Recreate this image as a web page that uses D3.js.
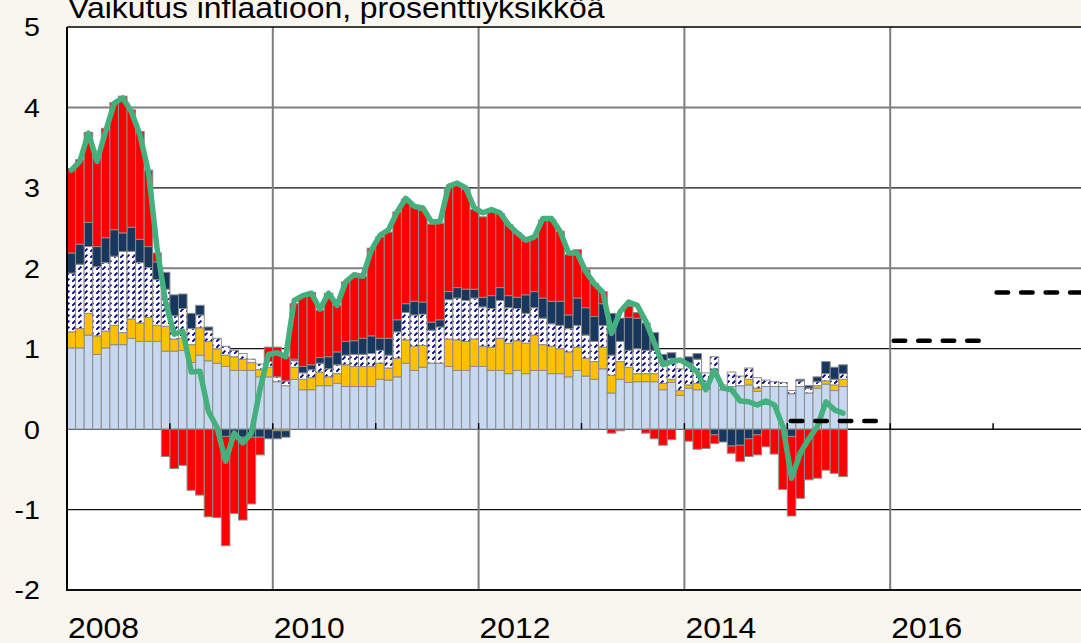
<!DOCTYPE html>
<html>
<head>
<meta charset="utf-8">
<script src="https://cdn.jsdelivr.net/npm/d3@7"></script>
<style>
  html, body { margin: 0; padding: 0; background: #f9f5ef; }
  svg { display: block; font-family: "Liberation Sans", Arial, sans-serif; }
</style>
</head>
<body>
<svg></svg>
<script>
// monthly contributions to inflation, 2008-01 .. 2015-07, percentage points
const startYear = 2008;

const lightBlue = [
  1.01, 1.01, 1.17, 0.93, 1.01, 1.05, 1.05, 1.13, 1.09, 1.09,
  1.09, 0.97, 0.97, 0.98, 0.83, 0.92, 0.85, 0.82, 0.78, 0.73,
  0.73, 0.73, 0.65, 0.65, 0.59, 0.54, 0.62, 0.49, 0.49, 0.54,
  0.54, 0.57, 0.53, 0.53, 0.53, 0.53, 0.62, 0.61, 0.65, 0.82,
  0.73, 0.77, 0.82, 0.82, 0.78, 0.73, 0.73, 0.78, 0.78, 0.73,
  0.73, 0.69, 0.73, 0.69, 0.73, 0.73, 0.69, 0.69, 0.65, 0.73,
  0.66, 0.62, 0.75, 0.45, 0.62, 0.58, 0.59, 0.59, 0.59, 0.49,
  0.58, 0.42, 0.51, 0.49, 0.50, 0.73, 0.49, 0.53, 0.54, 0.55,
  0.47, 0.53, 0.53, 0.53, 0.44, 0.53, 0.45, 0.51, 0.56, 0.48,
  0.53];

const yellow = [
  0.20, 0.24, 0.27, 0.23, 0.21, 0.24, 0.15, 0.24, 0.23, 0.30,
  0.20, 0.31, 0.15, 0.15, 0.22, 0.34, 0.24, 0.18, 0.14, 0.17,
  0.14, 0.10, 0.09, 0.12, -0.02, -0.02, 0.15, 0.13, 0.15, 0.17,
  0.11, 0.12, 0.27, 0.25, 0.25, 0.25, 0.20, 0.15, 0.23, 0.29,
  0.30, 0.27, 0, 0, 0.34, 0.38, 0.36, 0.34, 0.25, 0.29,
  0.40, 0.38, 0.37, 0.38, 0.44, 0.32, 0.34, 0.31, 0.31, 0.29,
  0.22, 0.22, 0.27, 0.22, 0.22, 0.19, 0.10, 0.10, 0.10, 0.08,
  0.04, 0.06, 0.04, 0.08, 0, 0, 0, 0, 0, 0.07,
  0.04, 0, 0, 0, 0, 0, 0, 0.03, 0.04, 0.07,
  0.09];

const hatched = [
  0.73, 0.80, 0.83, 0.86, 0.85, 0.86, 1.01, 0.84, 0.75, 0.62,
  0.57, 0.46, 0.29, 0.37, 0.20, 0.16, 0.14, 0.13, 0.11, 0.08,
  0.07, 0.04, 0.07, 0.07, 0.06, 0.06, 0.08, 0.08, 0.10, 0.11,
  0.10, 0.11, 0.12, 0.15, 0.15, 0.16, 0.16, 0.16, 0.33, 0.34,
  0.39, 0.39, 0.41, 0.45, 0.49, 0.52, 0.51, 0.51, 0.49, 0.48,
  0.47, 0.44, 0.40, 0.37, 0.34, 0.33, 0.28, 0.29, 0.29, 0.27,
  0.29, 0.25, 0.27, 0.25, 0.25, 0.21, 0.31, 0.29, 0.29, 0.28,
  0.26, 0.27, 0.27, 0.30, 0.20, 0.17, 0.06, 0.18, 0.12, 0.14,
  0.13, 0.08, 0.06, 0.05, 0.04, 0.07, 0.06, 0.05, 0.09, 0.07,
  0.07];

const navy = [
  0.25, 0.25, 0.30, 0.25, 0.31, 0.33, 0.23, 0.30, 0.29, 0.26,
  0.22, 0.21, 0.26, 0.18, 0.19, 0.12, 0.04, 0, -0.09, -0.09,
  -0.10, -0.10, -0.10, -0.12, -0.10, -0.08, 0.02, 0.08, 0.06, 0.07,
  0.15, 0.16, 0.17, 0.17, 0.20, 0.22, 0.15, 0.21, 0.15, 0.11,
  0.17, 0.15, 0.10, 0.09, 0.10, 0.13, 0.14, 0.11, 0.12, 0.16,
  0.16, 0.15, 0.14, 0.23, 0.20, 0.25, 0.28, 0.30, 0.17, 0.34,
  0.34, 0.31, 0.27, 0.52, 0.29, 0.41, 0.38, 0.34, 0.22, 0.08,
  0.07, 0, 0.08, 0.07, 0, -0.07, -0.16, -0.21, -0.20, -0.12,
  -0.07, 0, 0, 0, -0.09, 0.02, 0.03, 0.06, 0.15, 0.15,
  0.11];

const red = [
  1.05, 1.05, 1.12, 1.10, 1.36, 1.58, 1.70, 1.46, 1.34, 0.95,
  0.11, -0.34, -0.49, -0.45, -0.76, -0.82, -1.09, -1.10, -1.36, -0.96,
  -1.03, -0.83, -0.22, 0.18, 0.37, 0.30, 0.69, 0.87, 0.90, 0.59,
  0.79, 0.58, 0.74, 0.80, 0.77, 1.09, 1.26, 1.32, 1.34, 1.30,
  1.18, 1.14, 1.22, 1.20, 1.29, 1.28, 1.24, 0.99, 1.00, 1.05,
  0.92, 0.88, 0.80, 0.67, 0.68, 0.97, 1.01, 0.87, 0.75, 0.60,
  0.47, 0.41, 0.15, -0.05, -0.02, 0.14, 0.07, -0.05, -0.12, -0.20,
  -0.13, 0, -0.15, -0.25, -0.24, -0.11, 0, -0.09, -0.20, -0.22,
  -0.25, -0.22, -0.31, -0.75, -0.99, -0.86, -0.63, -0.61, -0.51, -0.55,
  -0.59];

// headline inflation (green line)
const inflation = [
  3.22, 3.33, 3.68, 3.33, 3.70, 4.05, 4.12, 3.95, 3.66, 3.20,
  2.25, 1.58, 1.18, 1.22, 0.71, 0.72, 0.22, 0.02, -0.40, -0.05,
  -0.17, -0.05, 0.49, 0.93, 0.95, 0.90, 1.60, 1.66, 1.69, 1.49,
  1.69, 1.54, 1.83, 1.92, 1.90, 2.23, 2.41, 2.48, 2.70, 2.87,
  2.77, 2.75, 2.58, 2.58, 3.02, 3.06, 3.00, 2.75, 2.69, 2.73,
  2.69, 2.54, 2.44, 2.35, 2.39, 2.62, 2.62, 2.46, 2.19, 2.19,
  1.96, 1.81, 1.70, 1.19, 1.46, 1.58, 1.54, 1.34, 1.07, 0.80,
  0.84, 0.86, 0.80, 0.71, 0.49, 0.73, 0.51, 0.49, 0.35, 0.34,
  0.30, 0.35, 0.30, 0.03, -0.61, -0.30, -0.12, 0.03, 0.34, 0.24,
  0.20];

// yearly forecasts (dashed)
const forecastYears = [2015, 2016, 2017];
const forecastValues = [0.1, 1.1, 1.7];

const yTicks = [5, 4, 3, 2, 1, 0, -1, -2];
const xLabelYears = [2008, 2010, 2012, 2014, 2016];
const title = 'Vaikutus inflaatioon, prosenttiyksikköä';

const s = {
  width: 1081,
  height: 643,
  left: 67,
  top: 27,
  bottom: 590,
  right: 1096,
};

const svg = d3.select('svg')
    .attr('width', s.width)
    .attr('height', s.height);

const x = d3.scaleLinear().domain([2008, 2018]).range([s.left, s.right]);
const y = d3.scaleLinear().domain([-2, 5]).range([s.bottom, s.top]);
const monthX = i => x(startYear + i / 12);

// hatch pattern: short navy diagonals on white
const defs = svg.append('defs');
const pat = defs.append('pattern')
    .attr('id', 'hatch')
    .attr('patternUnits', 'userSpaceOnUse')
    .attr('width', 6)
    .attr('height', 6);
pat.append('rect').attr('width', 6).attr('height', 6).attr('fill', '#fff');
pat.append('path')
    .attr('d', 'M0.3,5.7 L3.4,2.6')
    .attr('stroke', '#000080')
    .attr('stroke-width', 1.9);

svg.append('rect')
    .attr('width', s.width).attr('height', s.height)
    .attr('fill', '#f9f5ef');

svg.append('rect')
    .attr('x', s.left).attr('y', s.top)
    .attr('width', s.right - s.left).attr('height', s.bottom - s.top)
    .attr('fill', '#fff');

// horizontal grid
svg.append('g')
  .selectAll('line')
  .data([4, 3, 2, 1, -1])
  .join('line')
    .attr('x1', s.left).attr('x2', s.right)
    .attr('y1', d => y(d)).attr('y2', d => y(d))
    .attr('stroke', d => d % 2 === 0 ? '#7f7f7f' : '#111')
    .attr('stroke-width', d => d % 2 === 0 ? 2 : 1.3);

// vertical grid
svg.append('g')
  .selectAll('line')
  .data([2010, 2012, 2014, 2016])
  .join('line')
    .attr('x1', d => x(d)).attr('x2', d => x(d))
    .attr('y1', s.top).attr('y2', s.bottom)
    .attr('stroke', '#7f7f7f')
    .attr('stroke-width', 2);

svg.append('line')
    .attr('x1', s.left).attr('x2', s.right)
    .attr('y1', y(0)).attr('y2', y(0))
    .attr('stroke', '#111')
    .attr('stroke-width', 1.5);

// stacked bars
const keys = ['lightBlue', 'yellow', 'hatched', 'navy', 'red'];
const fills = {
  lightBlue: '#c6d9f1',
  yellow: '#ffc000',
  hatched: 'url(#hatch)',
  navy: '#17375e',
  red: '#ff0000',
};
const series = { lightBlue, yellow, hatched, navy, red };
const rows = lightBlue.map((_, i) => {
  const r = { i };
  keys.forEach(k => { r[k] = series[k][i]; });
  return r;
});

const stacked = d3.stack()
    .keys(keys)
    .offset(d3.stackOffsetDiverging)(rows);

svg.append('g')
  .selectAll('g')
  .data(stacked)
  .join('g')
    .attr('fill', d => fills[d.key])
  .selectAll('rect')
  .data(d => d.filter(p => p[1] !== p[0]))
  .join('rect')
    .attr('x', p => monthX(p.data.i))
    .attr('width', p => monthX(p.data.i + 1) - monthX(p.data.i))
    .attr('y', p => y(Math.max(p[0], p[1])))
    .attr('height', p => Math.abs(y(p[0]) - y(p[1])))
    .attr('stroke', '#8c8c8c')
    .attr('stroke-width', 1);

// yearly tick marks on the zero line
svg.append('g')
  .selectAll('line')
  .data(d3.range(2009, 2018))
  .join('line')
    .attr('x1', d => x(d)).attr('x2', d => x(d))
    .attr('y1', y(0)).attr('y2', y(0) - 6)
    .attr('stroke', '#000')
    .attr('stroke-width', 1.5);

// inflation line
const line = d3.line()
    .x((d, i) => monthX(i + 0.5))
    .y(d => y(d));

svg.append('path')
    .datum(inflation)
    .attr('d', line)
    .attr('fill', 'none')
    .attr('stroke', '#44b07e')
    .attr('stroke-width', 5.5)
    .attr('stroke-linejoin', 'round')
    .attr('stroke-linecap', 'round');

// forecasts
svg.append('g')
  .selectAll('line')
  .data(forecastYears)
  .join('line')
    .attr('x1', d => x(d) + 3.5)
    .attr('x2', d => x(d + 1) - 4)
    .attr('y1', (d, i) => y(forecastValues[i]))
    .attr('y2', (d, i) => y(forecastValues[i]))
    .attr('stroke', '#000')
    .attr('stroke-width', 4.5)
    .attr('stroke-linecap', 'round')
    .attr('stroke-dasharray', '11.5,13');

// plot frame
svg.append('line')
    .attr('x1', s.left).attr('x2', s.left)
    .attr('y1', s.top).attr('y2', s.bottom + 1)
    .attr('stroke', '#000').attr('stroke-width', 2);
svg.append('line')
    .attr('x1', s.left).attr('x2', s.right)
    .attr('y1', s.top).attr('y2', s.top)
    .attr('stroke', '#000').attr('stroke-width', 1.5);
svg.append('line')
    .attr('x1', s.left).attr('x2', s.right)
    .attr('y1', s.bottom).attr('y2', s.bottom)
    .attr('stroke', '#111').attr('stroke-width', 2);

// labels (slightly wide lettering, as in the original)
svg.append('g')
  .selectAll('text')
  .data(yTicks)
  .join('text')
    .attr('transform', d => `translate(40,${y(d)}) scale(1.1,1)`)
    .attr('dy', '0.36em')
    .attr('text-anchor', 'end')
    .attr('font-size', 26)
    .attr('fill', '#000')
    .text(d => d);

svg.append('g')
  .selectAll('text')
  .data(xLabelYears)
  .join('text')
    .attr('transform', d => `translate(${x(d) + 1},638) scale(1.1,1)`)
    .attr('font-size', 29)
    .attr('fill', '#000')
    .text(d => d);

// title sits partly above the picture's top edge, as in the original
svg.append('text')
    .attr('transform', 'translate(68,18) scale(1.1,1)')
    .attr('font-size', 29)
    .attr('fill', '#000')
    .text(title);
</script>
</body>
</html>
